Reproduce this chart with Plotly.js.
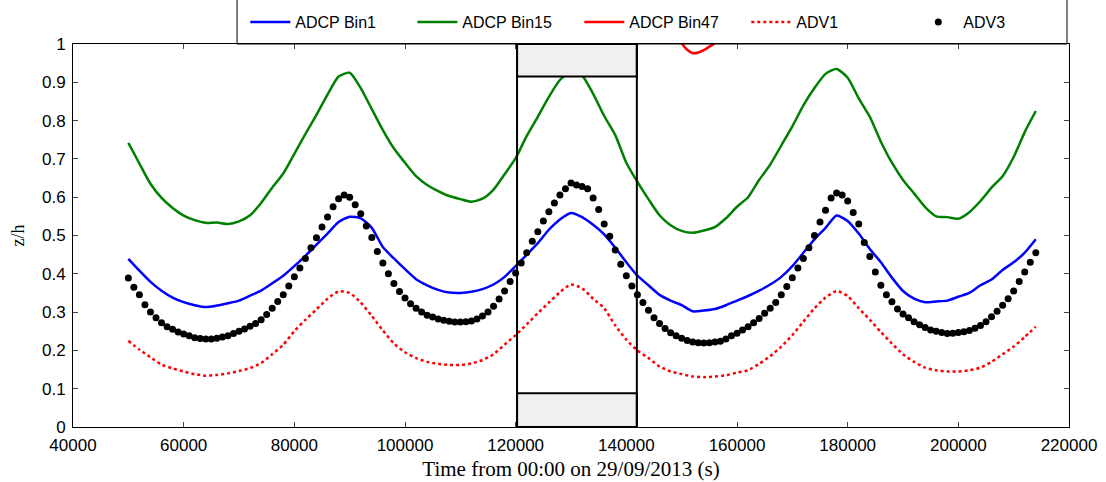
<!DOCTYPE html>
<html>
<head>
<meta charset="utf-8">
<script src="https://cdn.plot.ly/plotly-3.0.1.min.js"></script>
<style>html,body{margin:0;padding:0;background:#fff;}#chart{width:1106px;height:482px;}</style>
</head>
<body>
<div id="chart"></div>
<script>
// Time grid for ADCP / ADV1 lines (s)
const tLine = [50000,52000,54000,56000,58000,60000,62000,64000,66000,68000,70000,72000,74000,76000,78000,80000,82000,84000,86000,88000,90000,92000,94000,96000,98000,100000,102000,104000,106000,108000,110000,112000,114000,116000,118000,120000,122000,124000,126000,128000,130000,132000,134000,136000,138000,140000,142000,144000,146000,148000,150000,152000,154000,156000,158000,160000,162000,164000,166000,168000,170000,172000,174000,176000,178000,180000,182000,184000,186000,188000,190000,192000,194000,196000,198000,200000,202000,204000,206000,208000,210000,212000,214000];

const adcpBin1 = [0.439,0.408,0.379,0.356,0.338,0.326,0.318,0.313,0.317,0.323,0.330,0.343,0.356,0.375,0.395,0.420,0.447,0.476,0.505,0.535,0.549,0.545,0.520,0.470,0.440,0.412,0.386,0.370,0.358,0.351,0.350,0.353,0.360,0.372,0.392,0.420,0.450,0.480,0.515,0.542,0.559,0.548,0.528,0.503,0.468,0.430,0.395,0.370,0.345,0.330,0.318,0.302,0.304,0.308,0.318,0.330,0.342,0.356,0.372,0.392,0.420,0.455,0.490,0.520,0.552,0.538,0.505,0.465,0.430,0.390,0.355,0.335,0.326,0.328,0.330,0.340,0.350,0.370,0.385,0.410,0.430,0.455,0.490];

const adcpBin15 = [0.742,0.688,0.635,0.598,0.572,0.552,0.540,0.533,0.534,0.530,0.537,0.553,0.585,0.625,0.662,0.713,0.765,0.815,0.868,0.915,0.925,0.885,0.830,0.775,0.727,0.690,0.655,0.632,0.616,0.603,0.595,0.588,0.596,0.620,0.660,0.702,0.760,0.810,0.862,0.906,0.928,0.918,0.870,0.812,0.762,0.690,0.640,0.595,0.553,0.527,0.512,0.507,0.513,0.522,0.545,0.575,0.600,0.645,0.685,0.735,0.785,0.840,0.885,0.922,0.935,0.912,0.858,0.810,0.745,0.690,0.645,0.610,0.574,0.550,0.548,0.544,0.561,0.590,0.625,0.655,0.705,0.770,0.825];

const adv1 = [0.225,0.202,0.182,0.163,0.153,0.145,0.138,0.134,0.136,0.140,0.146,0.154,0.167,0.190,0.215,0.250,0.280,0.307,0.335,0.354,0.350,0.325,0.290,0.252,0.218,0.195,0.180,0.170,0.165,0.162,0.162,0.166,0.175,0.190,0.215,0.240,0.268,0.297,0.325,0.352,0.372,0.362,0.335,0.310,0.265,0.228,0.200,0.180,0.158,0.145,0.138,0.132,0.130,0.132,0.135,0.142,0.148,0.165,0.185,0.210,0.240,0.275,0.310,0.338,0.355,0.342,0.310,0.280,0.248,0.218,0.190,0.170,0.155,0.148,0.145,0.145,0.148,0.155,0.170,0.190,0.210,0.235,0.262];

// ADCP Bin47 (only the part dipping below z/h = 1 is visible)
const tBin47 = [148000,149000,150000,151000,152000,153000,154000,155000,156000,157000,158000];
const adcpBin47 = [1.060,1.030,1.002,0.985,0.976,0.978,0.984,0.993,1.002,1.015,1.030];

// ADV3 samples
const tAdv3 = [50000,51000,52000,53000,54000,55000,56000,57000,58000,59000,60000,61000,62000,63000,64000,65000,66000,67000,68000,69000,70000,71000,72000,73000,74000,75000,76000,77000,78000,79000,80000,81000,82000,83000,84000,85000,86000,87000,88000,89000,90000,91000,92000,93000,94000,95000,96000,97000,98000,99000,100000,101000,102000,103000,104000,105000,106000,107000,108000,109000,110000,111000,112000,113000,114000,115000,116000,117000,118000,119000,120000,121000,122000,123000,124000,125000,126000,127000,128000,129000,130000,131000,132000,133000,134000,135000,136000,137000,138000,139000,140000,141000,142000,143000,144000,145000,146000,147000,148000,149000,150000,151000,152000,153000,154000,155000,156000,157000,158000,159000,160000,161000,162000,163000,164000,165000,166000,167000,168000,169000,170000,171000,172000,173000,174000,175000,176000,177000,178000,179000,180000,181000,182000,183000,184000,185000,186000,187000,188000,189000,190000,191000,192000,193000,194000,195000,196000,197000,198000,199000,200000,201000,202000,203000,204000,205000,206000,207000,208000,209000,210000,211000,212000,213000,214000];
const adv3 = [0.389,0.365,0.345,0.319,0.300,0.285,0.272,0.262,0.255,0.248,0.243,0.238,0.233,0.231,0.230,0.230,0.232,0.235,0.238,0.244,0.250,0.256,0.263,0.270,0.280,0.294,0.310,0.328,0.345,0.368,0.392,0.415,0.440,0.468,0.494,0.522,0.548,0.575,0.596,0.606,0.600,0.580,0.557,0.525,0.495,0.458,0.428,0.400,0.375,0.354,0.337,0.322,0.310,0.300,0.292,0.287,0.282,0.279,0.276,0.274,0.274,0.275,0.277,0.282,0.290,0.300,0.315,0.334,0.355,0.380,0.402,0.428,0.455,0.485,0.510,0.538,0.562,0.585,0.606,0.622,0.637,0.632,0.628,0.622,0.598,0.568,0.530,0.498,0.462,0.425,0.395,0.368,0.345,0.325,0.305,0.285,0.270,0.257,0.246,0.238,0.232,0.226,0.222,0.220,0.219,0.220,0.222,0.224,0.230,0.238,0.245,0.253,0.262,0.272,0.283,0.297,0.310,0.325,0.345,0.367,0.390,0.415,0.440,0.468,0.500,0.535,0.566,0.598,0.611,0.606,0.590,0.560,0.530,0.482,0.445,0.405,0.370,0.345,0.327,0.308,0.295,0.285,0.275,0.267,0.260,0.253,0.250,0.247,0.244,0.245,0.247,0.249,0.252,0.258,0.265,0.275,0.288,0.302,0.318,0.335,0.355,0.380,0.405,0.430,0.455];

// Highlighted window
const boxT = [120250, 141900];
const boxBands = [[0.915, 1.0], [0.0, 0.088]];

const seriesNames = ['ADCP Bin1','ADCP Bin15','ADCP Bin47','ADV1','ADV3'];

const sans = 'Liberation Sans, Arial, sans-serif';
const serif = 'Liberation Serif, Times New Roman, serif';

const traces = [
  {x: tLine, y: adcpBin1, name: seriesNames[0], mode: 'lines', line: {color: '#0000ff', width: 2.5, shape: 'spline', smoothing: 0.6}},
  {x: tLine, y: adcpBin15, name: seriesNames[1], mode: 'lines', line: {color: '#008000', width: 2.5, shape: 'spline', smoothing: 0.6}},
  {x: tBin47, y: adcpBin47, name: seriesNames[2], mode: 'lines', line: {color: '#ff0000', width: 2.5, shape: 'spline', smoothing: 0.6}},
  {x: tLine, y: adv1, name: seriesNames[3], mode: 'lines', line: {color: '#ff0000', width: 2.5, dash: 'dot', shape: 'spline', smoothing: 0.6}},
  {x: tAdv3, y: adv3, name: seriesNames[4], mode: 'markers', marker: {color: '#000000', size: 7}}
];

const shapes = [];
boxBands.forEach(b => shapes.push({type: 'rect', xref: 'x', yref: 'y', x0: boxT[0], x1: boxT[1], y0: b[0], y1: b[1], fillcolor: '#f0f0f0', line: {color: '#000', width: 2}, layer: 'above'}));
shapes.push({type: 'rect', xref: 'x', yref: 'y', x0: boxT[0], x1: boxT[1], y0: 0, y1: 1, line: {color: '#000', width: 2}, layer: 'above'});
// legend frame
shapes.push({type: 'rect', xref: 'paper', yref: 'paper', x0: 0.1647, x1: 0.998, y0: 1, y1: 1.25, line: {color: '#000', width: 1}, layer: 'above'});

const layout = {
  width: 1106, height: 482,
  margin: {l: 73, r: 37, t: 44, b: 55, autoexpand: false},
  paper_bgcolor: '#fff', plot_bgcolor: '#fff',
  showlegend: true,
  legend: {orientation: 'h', x: 0.173, xanchor: 'left', y: 1.057, yanchor: 'middle', itemwidth: 40, font: {family: sans, size: 16, color: '#000'}, bgcolor: 'rgba(0,0,0,0)', entrywidth: 112, entrywidthmode: 'pixels'},
  xaxis: {
    range: [40000, 220000], tick0: 40000, dtick: 20000, tickformat: 'd',
    ticks: 'inside', ticklen: 5, tickcolor: '#444', showgrid: false, zeroline: false,
    showline: true, linecolor: '#000', linewidth: 1, mirror: 'ticks',
    tickfont: {family: sans, size: 17, color: '#000'}, ticklabelstandoff: 3,
    title: {text: 'Time from 00:00 on 29/09/2013 (s)', font: {family: serif, size: 21, color: '#000'}, standoff: 6}
  },
  yaxis: {
    range: [0, 1], tick0: 0, dtick: 0.1,
    ticks: 'inside', ticklen: 5, tickcolor: '#444', showgrid: false, zeroline: false,
    showline: true, linecolor: '#000', linewidth: 1, mirror: 'ticks',
    tickfont: {family: sans, size: 17, color: '#000'}, ticklabelstandoff: 3,
    title: {text: 'z/h', font: {family: serif, size: 18, color: '#000'}, standoff: 12}
  },
  shapes: shapes
};

Plotly.newPlot('chart', traces, layout, {displayModeBar: false, staticPlot: true});
</script>
</body>
</html>
